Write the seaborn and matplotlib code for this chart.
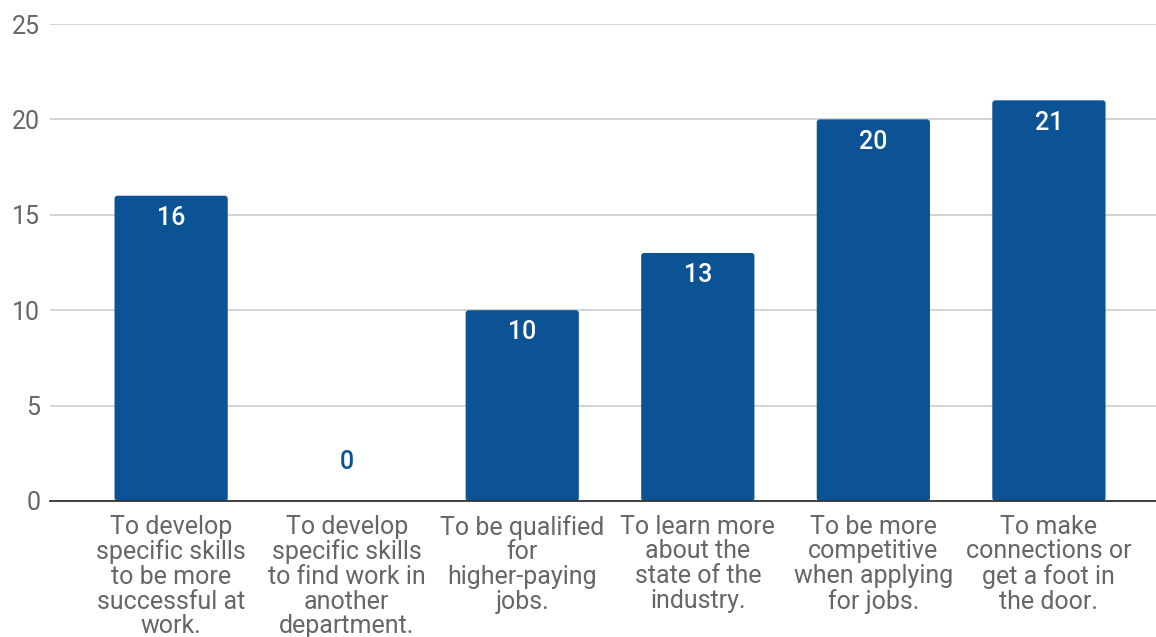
import matplotlib
matplotlib.use("Agg")
import matplotlib.pyplot as plt
from matplotlib.patches import FancyBboxPatch
import seaborn as sns
import pandas as pd

categories = [
    "To develop\nspecific skills\nto be more\nsuccessful at\nwork.",
    "To develop\nspecific skills\nto find work in\nanother\ndepartment.",
    "To be qualified\nfor\nhigher-paying\njobs.",
    "To learn more\nabout the\nstate of the\nindustry.",
    "To be more\ncompetitive\nwhen applying\nfor jobs.",
    "To make\nconnections or\nget a foot in\nthe door.",
]
counts = [16, 0, 10, 13, 20, 21]
y_ticks = [0, 5, 10, 15, 20, 25]

BAR = "#0b5394"
TEXT = "#666666"

sns.set_theme(style="white")
plt.rcParams["font.family"] = ["Roboto", "DejaVu Sans"]

df = pd.DataFrame({"reason": categories, "count": counts})

fig = plt.figure(figsize=(11.56, 6.37), dpi=100)
ax = fig.add_axes([50 / 1156, 136 / 637, 1106 / 1156, 477 / 637])

sns.barplot(data=df, x="reason", y="count", color=BAR, saturation=1,
            width=0.645, ax=ax, zorder=3)

ax.set_ylim(0, 25)
ax.set_xlim(-0.69, 5.61)

# soften the bar corners slightly
px_x = 6.3 / 1106
px_y = 25 / 477
for p in list(ax.patches):
    x, y = p.get_x(), p.get_y()
    w, h = p.get_width(), p.get_height()
    if h <= 0:
        p.remove()
        continue
    rb = FancyBboxPatch((x, y), w, h,
                        boxstyle=f"round,pad=0,rounding_size={3 * px_x}",
                        mutation_aspect=px_y / px_x,
                        facecolor=BAR, edgecolor="none", zorder=3)
    p.remove()
    ax.add_patch(rb)

ax.set_yticks(y_ticks)
ax.yaxis.grid(True, color="#cccccc", linewidth=1.2, zorder=0)
ax.set_axisbelow(True)
ax.set_xlabel("")
ax.set_ylabel("")

for s in ["top", "right", "left"]:
    ax.spines[s].set_visible(False)
ax.spines["bottom"].set_color("#333333")
ax.spines["bottom"].set_linewidth(1.3)
ax.spines["bottom"].set_zorder(6)

ax.tick_params(axis="y", length=0, pad=7, labelsize=18, labelcolor=TEXT)
ax.tick_params(axis="x", length=0, pad=10, labelsize=18, labelcolor=TEXT)
for lbl in ax.get_yticklabels():
    lbl.set_horizontalalignment("right")
for lbl in ax.get_xticklabels():
    lbl.set_linespacing(1.03)
    lbl.set_horizontalalignment("center")

for i, v in enumerate(counts):
    if v > 0:
        ax.annotate(str(v), (i, v), xytext=(0, -16), textcoords="offset points",
                    ha="center", va="center", color="white", fontsize=18,
                    fontweight="medium", zorder=5)
    else:
        ax.annotate(str(v), (i, v), xytext=(0, 28), textcoords="offset points",
                    ha="center", va="center", color=BAR, fontsize=18,
                    fontweight="medium", zorder=5)

fig.savefig("out.png", dpi=100, facecolor="white")
